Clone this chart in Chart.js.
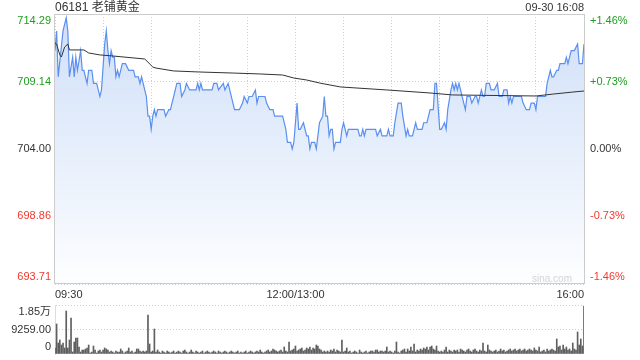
<!DOCTYPE html>
<html>
<head>
<meta charset="utf-8">
<script src="https://cdn.jsdelivr.net/npm/chart.js@4.4.1/dist/chart.umd.min.js"></script>
<style>
  html, body { margin: 0; padding: 0; background: #fff; }
  #wrap { position: relative; width: 640px; height: 360px; overflow: hidden; font-family: "Liberation Sans", Arial, "Noto Sans CJK SC", sans-serif; }
  #main { position: absolute; left: 0; top: 0; }
  #vol { position: absolute; left: 0; top: 300px; }
  .txt { position: absolute; white-space: nowrap; color: #333; }
  #title { left: 55px; top: 0; font-size: 12px; line-height: 14px; }
  #stamp { right: 56px; top: 0; font-size: 11px; line-height: 14px; }
  #mark { left: 532px; top: 272px; font-size: 10px; line-height: 14px; color: #d4d4d4; }
</style>
</head>
<body>
<div id="wrap">
  <canvas id="main" width="640" height="300"></canvas>
  <canvas id="vol" width="640" height="60"></canvas>
  <div class="txt" id="title">06181 老铺黄金</div>
  <div class="txt" id="stamp">09-30 16:08</div>
  <div class="txt" id="mark">sina.com</div>
</div>
<script>
// ---- data (minutes since 09:30, lunch break removed; 150 = 12:00/13:00) ----
const prevClose = 704.00;
const priceMinutes = [0,1,2,5,7,8,9,11,12,13,14,16,17,18,20,21,23,24,26,28,29,31,32,33,34,35,36,37,38,39,40,42,44,46,49,50,52,53,54,55,57,58,59,60,61,62,63,64,68,69,71,72,74,76,78,79,81,82,84,88,89,90,91,92,98,99,101,102,105,106,108,109,111,112,115,117,118,120,121,123,125,126,127,131,132,134,136,137,142,144,145,147,148,149,151,152,153,155,157,158,159,160,162,163,164,165,167,168,169,170,171,172,173,174,175,178,179,180,182,183,189,190,191,192,193,194,200,201,203,204,207,208,209,211,212,214,216,217,219,220,221,223,225,226,229,230,232,233,234,236,237,238,240,241,243,244,245,247,248,249,250,251,252,253,254,256,257,259,260,262,263,264,265,266,267,268,269,271,272,274,276,277,279,280,282,283,284,285,286,291,292,294,296,297,299,300,301,306,307,309,310,311,313,314,315,318,319,320,321,322,324,326,327,329,330];
const prices = [711.5,713.0,709.5,713.0,714.0,713.0,709.5,711.0,709.5,711.0,710.0,711.5,710.0,710.0,709.0,710.0,710.0,709.0,709.0,708.0,708.5,712.0,713.0,711.5,710.5,711.5,711.0,711.0,709.5,710.0,709.5,710.5,710.5,710.0,710.0,709.5,709.5,709.0,709.5,709.0,708.0,706.5,706.5,705.5,706.5,707.0,706.5,707.0,707.0,706.5,707.0,707.0,708.0,709.0,709.0,708.0,708.5,709.0,708.5,708.5,709.0,708.5,709.0,708.5,708.5,709.0,709.0,708.5,709.0,708.5,709.0,708.5,707.5,707.0,707.0,707.5,708.0,707.5,708.0,708.0,708.5,707.5,708.0,708.0,707.5,707.0,707.0,706.5,706.5,705.5,704.5,704.5,704.0,704.5,707.5,705.5,705.5,706.0,705.0,705.0,704.0,704.5,704.5,704.0,705.0,706.0,706.5,708.0,706.5,706.5,705.0,705.5,705.5,704.0,704.5,704.5,705.5,706.0,705.0,705.5,705.5,705.0,705.0,705.5,705.0,705.5,705.5,705.0,705.5,705.0,705.0,705.5,705.0,705.0,706.0,707.5,707.5,706.5,705.0,705.5,705.0,705.0,706.0,705.5,705.5,706.0,706.0,706.5,707.0,707.0,709.0,709.0,705.5,705.5,706.0,705.5,707.0,708.5,709.0,708.5,709.0,708.5,709.0,708.5,708.0,707.0,708.0,708.0,707.5,708.0,708.0,707.5,708.0,708.5,708.0,708.0,709.0,709.0,708.5,708.5,709.0,708.0,708.0,708.5,708.5,707.5,708.0,707.5,708.0,708.0,707.5,707.0,707.0,707.5,707.5,707.0,708.0,708.0,709.0,710.0,709.5,709.5,710.0,710.0,710.5,710.5,711.0,710.5,711.0,711.5,711.5,712.0,710.5,710.5,712.0];
const avgMinutes = [0,1,3,4,6,8,9,18,21,28,36,56,61,63,74,90,111,128,142,149,157,165,178,207,234,248,300,311,323,330];
const avgPrices = [712.08,712.00,711.17,711.01,711.77,712.00,711.55,711.55,711.32,711.17,711.09,710.86,710.25,710.17,709.95,709.87,709.79,709.72,709.64,709.41,709.26,709.03,708.73,708.50,708.27,708.12,708.04,708.19,708.34,708.42];
const volumes = [
  2270,11340,4160,5290,3400,4160,2270,16250,2270,5290,
  13610,760,4540,6050,6050,2650,760,1510,1510,1890,
  2270,3400,380,760,3020,1510,380,1130,1510,760,
  1510,2270,1890,1510,760,1130,760,380,1130,760,
  760,1890,1130,380,760,1130,2270,760,1130,380,
  760,1890,1890,1130,760,1130,760,1130,14740,3780,
  760,1130,9450,760,1510,760,380,1130,760,380,
  1130,760,380,760,1130,380,760,1130,760,380,
  1130,1510,760,380,760,1510,760,380,1130,760,
  380,760,1130,380,760,1130,760,380,760,1130,
  760,380,1130,760,380,760,1130,760,380,760,
  1130,760,380,760,1130,380,760,380,760,1130,
  380,760,1130,760,380,760,1130,760,1510,760,
  380,760,1130,1510,760,1130,1890,1510,1130,760,
  1130,1510,760,2650,1130,760,4540,1130,1510,1890,
  3020,1130,1510,1890,2270,1130,1510,2270,1890,2650,
  1510,2270,1890,3400,3020,1890,1510,760,1130,760,
  1130,760,1510,1130,1890,760,1510,1130,760,5290,
  760,1130,2270,760,1130,380,760,1130,760,380,
  1510,760,380,760,1130,380,760,1130,1130,760,
  1510,1510,760,1130,1130,760,1130,2650,760,1130,
  760,380,1130,4540,760,380,1130,1510,1890,760,
  1890,1130,2650,1130,3780,760,1510,1130,1890,1510,
  2270,1890,2650,1510,2650,3020,1890,1510,3020,1130,
  760,1130,760,1510,2650,760,1510,1130,760,1510,
  1130,1510,760,1890,1510,1130,760,1510,1890,1130,
  760,1510,1890,1130,760,1510,1130,4160,1130,760,
  3400,1510,1130,760,1130,1510,760,1130,1890,1130,
  1510,760,1130,1510,1890,1130,1510,1890,1130,1510,
  1890,1130,1510,1890,1130,1510,1890,1510,1130,2270,
  1510,1130,2650,760,1130,1510,760,1890,1130,1510,
  1890,1510,1130,5670,2650,3020,1510,3400,1890,2650,
  1510,1890,1130,4160,1890,1510,8320,3400,5670,3020,
  18140
];
const yTickValues = [693.71, 698.86, 704.00, 709.14, 714.29];
const yTickLabels = ['693.71', '698.86', '704.00', '709.14', '714.29'];
const pctTickLabels = ['-1.46%', '-0.73%', '0.00%', '+0.73%', '+1.46%'];
const xTickValues = [0, 150, 330];
const xTickLabels = ['09:30', '12:00/13:00', '16:00'];
const volTickValues = [0, 9259, 18518];
const volTickLabels = ['0', '9259.00', '1.85万'];

// ---- styling ----
const FONT = '"Liberation Sans", Arial, "Noto Sans CJK SC", sans-serif';
Chart.defaults.font.family = FONT;
Chart.defaults.font.size = 11;
Chart.defaults.animation = false;
const GREEN = '#1e9e1e', RED = '#f0392f', DARK = '#333';
const GRID = '#cfcfcf';

function tickColor(ctx) {
  const v = yTickValues[ctx.index];
  if (v > prevClose + 0.001) return GREEN;
  if (v < prevClose - 0.001) return RED;
  return DARK;
}
function edgeLabel(text, index, n) {
  if (index === n - 1) return ['', text];
  if (index === 0) return [text, ''];
  return text;
}
function fixY(width) {
  return (s) => { s.width = width; s.paddingTop = 0; s.paddingBottom = 0; };
}

const frame = {
  id: 'frame',
  afterDraw(chart) {
    const a = chart.chartArea, c = chart.ctx;
    c.save();
    c.strokeStyle = '#cccccc';
    c.lineWidth = 1;
    c.strokeRect(Math.round(a.left) - 0.5, Math.round(a.top) + 0.5, Math.round(a.right - a.left) + 1, Math.round(a.bottom - a.top) - 1);
    c.restore();
  }
};

new Chart(document.getElementById('main'), {
  type: 'line',
  data: {
    datasets: [
      {
        data: avgMinutes.map((m, i) => ({ x: m, y: avgPrices[i] })),
        borderColor: '#333333',
        borderWidth: 1,
        pointRadius: 0,
        fill: false,
        order: 0
      },
      {
        data: priceMinutes.map((m, i) => ({ x: m, y: prices[i] })),
        borderColor: '#5b8ff0',
        borderWidth: 1.2,
        pointRadius: 0,
        fill: 'start',
        order: 1,
        backgroundColor: (ctx) => {
          const a = ctx.chart.chartArea;
          if (!a) return 'rgba(210,225,248,0.6)';
          const g = ctx.chart.ctx.createLinearGradient(0, a.top, 0, a.bottom);
          g.addColorStop(0, '#cfdff8');
          g.addColorStop(1, '#fdfeff');
          return g;
        }
      }
    ]
  },
  options: {
    responsive: false,
    devicePixelRatio: 1,
    layout: { padding: { top: 14, left: 0, right: 0, bottom: 0 } },
    plugins: { legend: { display: false }, tooltip: { enabled: false } },
    scales: {
      x: {
        type: 'linear', min: 0, max: 330,
        afterFit: (s) => { s.height = 16; s.paddingLeft = 0; s.paddingRight = 0; },
        afterBuildTicks: (s) => { const t = []; for (let v = 0; v <= 330; v += 30) t.push({ value: v }); s.ticks = t; },
        ticks: {
          autoSkip: false, maxRotation: 0, align: 'inner', padding: 4, color: DARK,
          callback: (v) => { const i = xTickValues.indexOf(v); return i >= 0 ? xTickLabels[i] : ''; }
        },
        grid: { color: GRID, drawTicks: false },
        border: { display: false, dash: [1, 2] }
      },
      y: {
        type: 'linear', position: 'left', min: 693.71, max: 714.29,
        afterFit: fixY(55),
        afterBuildTicks: (s) => { s.ticks = yTickValues.map(v => ({ value: v })); },
        ticks: {
          padding: 4, color: tickColor,
          callback: (v, i, t) => edgeLabel(yTickLabels[i], i, t.length)
        },
        grid: { color: GRID, drawTicks: false },
        border: { display: false, dash: [1, 2] }
      },
      y2: {
        type: 'linear', position: 'right', min: 693.71, max: 714.29,
        afterFit: fixY(56),
        afterBuildTicks: (s) => { s.ticks = yTickValues.map(v => ({ value: v })); },
        ticks: {
          padding: 6, color: tickColor,
          callback: (v, i, t) => edgeLabel(pctTickLabels[i], i, t.length)
        },
        grid: { display: false, drawTicks: false },
        border: { display: false }
      }
    }
  },
  plugins: [frame]
});

new Chart(document.getElementById('vol'), {
  type: 'bar',
  data: {
    datasets: [{
      data: volumes.map((v, i) => ({ x: i, y: v })),
      backgroundColor: '#5f5f5f',
      barThickness: 1
    }]
  },
  options: {
    responsive: false,
    devicePixelRatio: 1,
    layout: { padding: { top: 5, left: 0, right: 56, bottom: 6 } },
    plugins: { legend: { display: false }, tooltip: { enabled: false } },
    scales: {
      x: { type: 'linear', min: 0, max: 330, offset: false, display: false },
      y: {
        min: 0, max: 18518,
        afterFit: fixY(55),
        afterBuildTicks: (s) => { s.ticks = volTickValues.map(v => ({ value: v })); },
        ticks: {
          autoSkip: false, padding: 4, color: DARK,
          callback: (v, i, t) => edgeLabel(volTickLabels[i], i, t.length)
        },
        grid: { color: (ctx) => ctx.tick && ctx.tick.value === 0 ? 'rgba(0,0,0,0)' : GRID, drawTicks: false, lineWidth: 1 },
        border: { display: true, color: '#dddddd', dash: [1, 2] }
      }
    }
  }
});
</script>
</body>
</html>
